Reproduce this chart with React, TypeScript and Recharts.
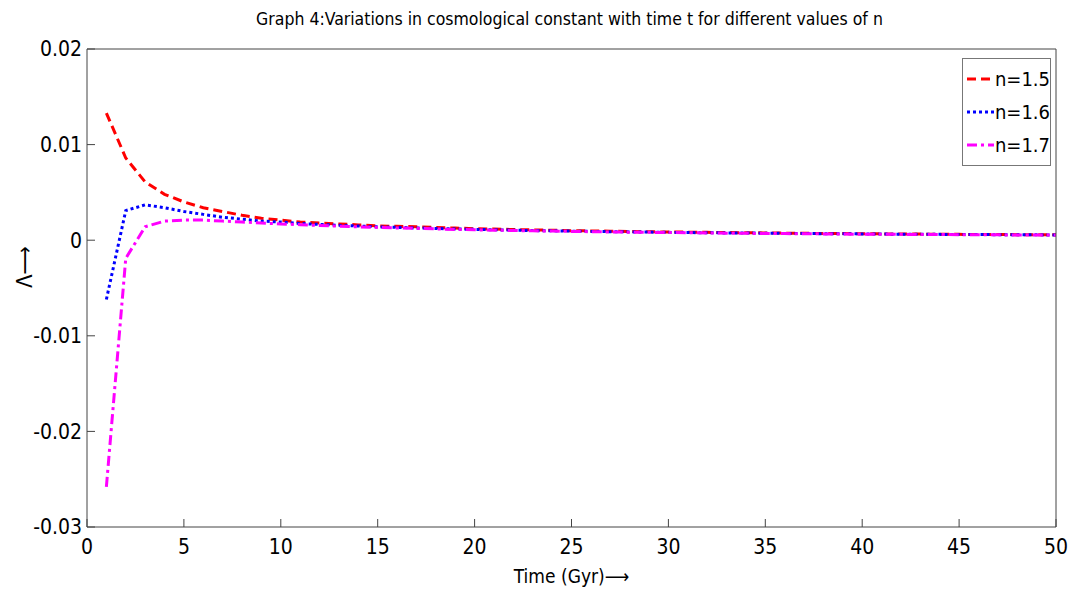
import { Label, Line, LineChart, XAxis, YAxis } from "recharts";

const FONT = '"DejaVu Sans Condensed", "DejaVu Sans", sans-serif';

const times = [
  1, 2, 3, 4, 5, 6, 7, 8, 9, 10, 11, 12, 13, 14, 15, 16, 17, 18, 19, 20, 21, 22, 23, 24, 25,
  26, 27, 28, 29, 30, 31, 32, 33, 34, 35, 36, 37, 38, 39, 40, 41, 42, 43, 44, 45, 46, 47, 48, 49, 50,
];

const lambda15 = [
  0.0133, 0.0086, 0.0061, 0.0048, 0.004, 0.0034, 0.003, 0.0026, 0.0023, 0.0021,
  0.0019, 0.0018, 0.0017, 0.0016, 0.0015, 0.00145, 0.0014, 0.00133, 0.00127, 0.0012,
  0.00116, 0.00112, 0.00108, 0.00104, 0.001, 0.00097, 0.00094, 0.00091, 0.00088, 0.00086,
  0.00084, 0.00082, 0.0008, 0.00078, 0.00076, 0.00074, 0.00072, 0.0007, 0.00069, 0.00068,
  0.00066, 0.00065, 0.00064, 0.00062, 0.00061, 0.0006, 0.00059, 0.00058, 0.00057, 0.00056,
];

const lambda16 = [
  -0.0062, 0.0031, 0.0037, 0.0034, 0.003, 0.0027, 0.0024, 0.0022, 0.002, 0.0019,
  0.00175, 0.00165, 0.00156, 0.00148, 0.0014, 0.00134, 0.00128, 0.00123, 0.00118, 0.00113,
  0.00109, 0.00105, 0.00101, 0.00098, 0.00095, 0.00092, 0.00089, 0.00087, 0.00085, 0.00082,
  0.0008, 0.00078, 0.00076, 0.00075, 0.00073, 0.00071, 0.0007, 0.00068, 0.00067, 0.00066,
  0.00064, 0.00063, 0.00062, 0.00061, 0.0006, 0.00059, 0.00058, 0.00057, 0.00056, 0.00055,
];

const lambda17 = [
  -0.0258, -0.0019, 0.0014, 0.002, 0.0021, 0.0021, 0.002, 0.0019, 0.0018, 0.0017,
  0.00162, 0.00154, 0.00147, 0.0014, 0.00134, 0.00128, 0.00123, 0.00118, 0.00113, 0.00109,
  0.00105, 0.00101, 0.00098, 0.00095, 0.00092, 0.00089, 0.00086, 0.00084, 0.00082, 0.0008,
  0.00078, 0.00076, 0.00074, 0.00072, 0.0007, 0.00069, 0.00067, 0.00066, 0.00064, 0.00063,
  0.00062, 0.00061, 0.0006, 0.00059, 0.00058, 0.00057, 0.00056, 0.00055, 0.00054, 0.00053,
];

const xTicks = [0, 5, 10, 15, 20, 25, 30, 35, 40, 45, 50];
const yTicks = [-0.03, -0.02, -0.01, 0, 0.01, 0.02];

const series = [
  { key: "n15", name: "n=1.5", color: "#ff0000", dash: "9 5" },
  { key: "n16", name: "n=1.6", color: "#0000ff", dash: "3 3" },
  { key: "n17", name: "n=1.7", color: "#ff00ff", dash: "10 4 3 4" },
];

const data = times.map((t, i) => ({
  t,
  n15: lambda15[i],
  n16: lambda16[i],
  n17: lambda17[i],
}));

const AXIS = "#444";

const LegendBox = () => (
  <div
    style={{
      position: "absolute",
      left: 962,
      top: 58,
      width: 89,
      height: 108,
      border: "1.5px solid #777",
      background: "#fff",
      boxSizing: "border-box",
      padding: "3px 0 0 4px",
      zIndex: 2,
    }}
  >
    {series.map((s) => (
      <div key={s.key} style={{ display: "flex", alignItems: "center", height: 33 }}>
        <svg width={34} height={10}>
          <line x1={0} y1={5} x2={34} y2={5} stroke={s.color} strokeWidth={3} strokeDasharray={s.dash} />
        </svg>
        <span style={{ fontFamily: FONT, fontSize: 20, color: "#000", marginLeft: 1 }}>{s.name}</span>
      </div>
    ))}
  </div>
);

const App = () => {
  return (
    <div style={{ position: "absolute", left: 0, top: 0, width: 1069, height: 592, background: "#fff" }}>
      <div
        style={{
          position: "absolute",
          top: 9,
          left: 0,
          width: 1139,
          textAlign: "center",
          fontFamily: FONT,
          fontSize: 17.5,
          color: "#000",
          zIndex: 2,
        }}
      >
        Graph 4:Variations in cosmological constant with time t for different values of n
      </div>
      <LegendBox />
      <LineChart width={1069} height={592} data={data} margin={{ top: 49, right: 13, bottom: 25, left: 0 }}>
        <XAxis
          dataKey="t"
          type="number"
          domain={[0, 50]}
          ticks={xTicks}
          height={40}
          stroke={AXIS}
          tickSize={-8}
          tickMargin={20}
          tick={{ fill: "#000", fontFamily: FONT, fontSize: 21 }}
          interval={0}
        >
          <Label value="Time (Gyr)⟶" position="insideBottom" offset={-16} fill="#000" fontFamily={FONT} fontSize={19} />
        </XAxis>
        <XAxis xAxisId="top" orientation="top" dataKey="t" type="number" domain={[0, 50]} ticks={xTicks} height={1} stroke={AXIS} mirror tickSize={8} tick={false} />
        <YAxis
          type="number"
          domain={[-0.03, 0.02]}
          ticks={yTicks}
          width={87}
          stroke={AXIS}
          tickSize={-8}
          tickMargin={13}
          tick={{ fill: "#000", fontFamily: FONT, fontSize: 21 }}
          tickFormatter={(v: number) => (v === 0 ? "0" : String(Number(v.toFixed(2))))}
          interval={0}
        >
          <Label value="Λ⟶" angle={-90} position="insideLeft" offset={24} fill="#000" fontFamily={FONT} fontSize={22} />
        </YAxis>
        <YAxis yAxisId="right" orientation="right" type="number" domain={[-0.03, 0.02]} ticks={yTicks} width={1} stroke={AXIS} mirror tickSize={8} tick={false} />
        {series.map((s) => (
          <Line
            key={s.key}
            dataKey={s.key}
            name={s.name}
            stroke={s.color}
            strokeWidth={3}
            strokeDasharray={s.dash}
            dot={false}
            type="linear"
            isAnimationActive={false}
          />
        ))}
      </LineChart>
    </div>
  );
};

export default App;
